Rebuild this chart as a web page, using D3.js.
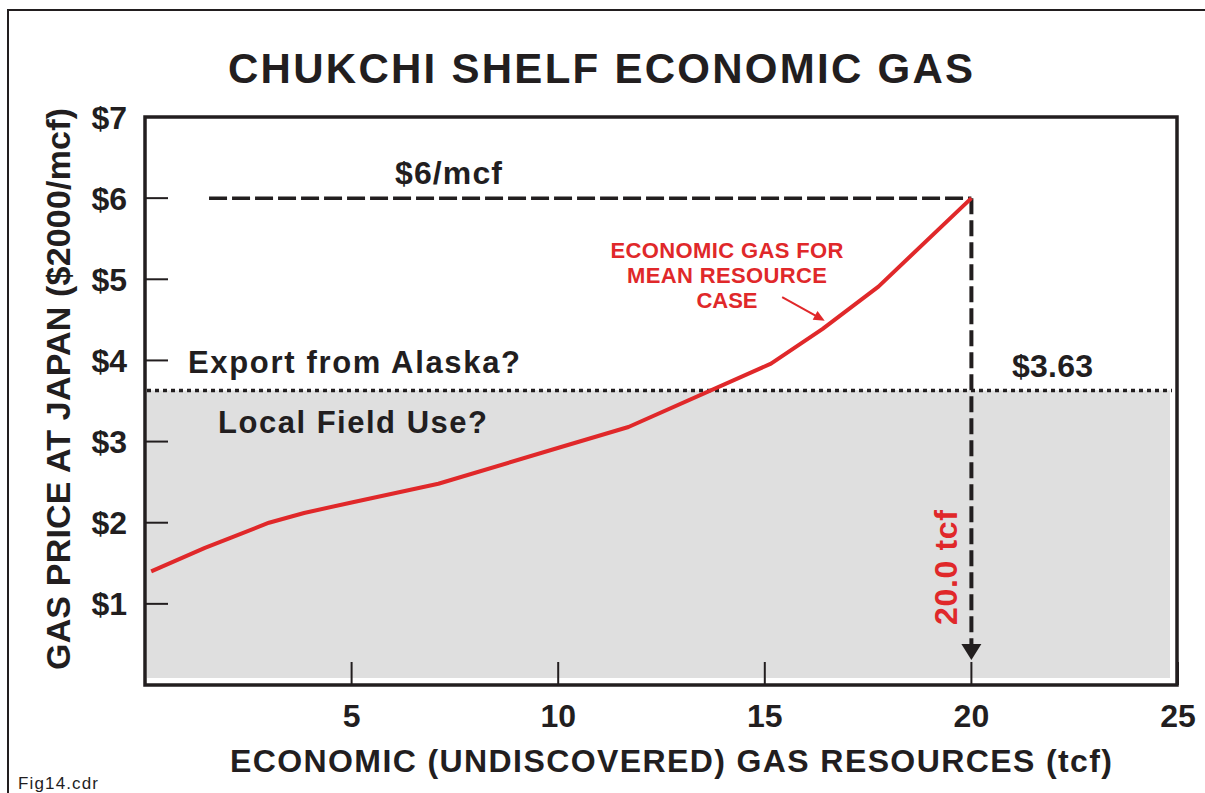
<!DOCTYPE html>
<html>
<head>
<meta charset="utf-8">
<script src="https://cdn.jsdelivr.net/npm/d3@7"></script>
<style>
  body { margin: 0; background: #fff; }
  svg text { font-family: "Liberation Sans Narrow", "Liberation Sans", Arial, sans-serif; font-weight: bold; fill: #221e1f; }
</style>
</head>
<body>
<div id="chart"></div>
<script>
// economic gas curve
var resourceTcf = [0.15, 1.45, 2.1, 3.0, 3.85, 5.0, 7.1, 10.05, 11.7, 15.15, 16.4, 17.75, 20.0];
var priceUsd    = [1.40, 1.69, 1.82, 2.0, 2.12, 2.25, 2.48, 2.93, 3.18, 3.96, 4.39, 4.91, 6.0];

var xTicks = [5, 10, 15, 20, 25];
var yTicks = [1, 2, 3, 4, 5, 6, 7];

var exportPrice = 3.63;   // dotted threshold
var targetPrice = 6;      // $6/mcf
var targetTcf = 20.0;
var dashStartTcf = 1.55;

var width = 1205, height = 793;
var red = "#e0282a", ink = "#221e1f";

var svg = d3.select("#chart").append("svg")
    .attr("width", width)
    .attr("height", height);

// scales
var x = d3.scaleLinear().domain([0, 25]).range([145, 1178]);
var y = d3.scaleLinear().domain([0, 7]).range([685, 117]);

// outer page frame
svg.append("path")
    .attr("d", "M8,793 V10 H1205")
    .attr("fill", "none")
    .attr("stroke", ink)
    .attr("stroke-width", 2);

// title
svg.append("text")
    .attr("x", 228).attr("y", 83)
    .attr("textLength", 745)
    .style("font-size", "42px")
    .text("CHUKCHI SHELF ECONOMIC GAS");

// grey band below export price
svg.append("rect")
    .attr("x", x(0) + 2)
    .attr("y", y(exportPrice))
    .attr("width", x(25) - 8 - x(0) - 2)
    .attr("height", y(0) - 7 - y(exportPrice))
    .attr("fill", "#dfdfdf");

// dotted line at $3.63
svg.append("line")
    .attr("x1", x(0) + 2).attr("x2", x(25) - 6)
    .attr("y1", y(exportPrice)).attr("y2", y(exportPrice))
    .attr("stroke", ink)
    .attr("stroke-width", 3.5)
    .attr("stroke-dasharray", "4,4");

// y ticks (inward)
svg.append("g").selectAll("line")
    .data(yTicks)
    .enter().append("line")
    .attr("x1", x(0)).attr("x2", x(0) + 23)
    .attr("y1", function(d) { return y(d); })
    .attr("y2", function(d) { return y(d); })
    .attr("stroke", ink)
    .attr("stroke-width", 2);

// x ticks (inward)
svg.append("g").selectAll("line")
    .data(xTicks)
    .enter().append("line")
    .attr("x1", function(d) { return x(d); })
    .attr("x2", function(d) { return x(d); })
    .attr("y1", y(0)).attr("y2", y(0) - 23)
    .attr("stroke", ink)
    .attr("stroke-width", 2);

// tick labels
svg.append("g").selectAll("text")
    .data(yTicks)
    .enter().append("text")
    .attr("x", 127)
    .attr("y", function(d) { return y(d); })
    .attr("dy", "0.36em")
    .attr("text-anchor", "end")
    .style("font-size", "32px")
    .text(function(d) { return "$" + d; });

svg.append("g").selectAll("text")
    .data(xTicks)
    .enter().append("text")
    .attr("x", function(d) { return x(d); })
    .attr("y", 727)
    .attr("text-anchor", "middle")
    .style("font-size", "32px")
    .text(function(d) { return d; });

// axis titles
svg.append("text")
    .attr("x", 230).attr("y", 772)
    .attr("textLength", 882)
    .style("font-size", "32px")
    .text("ECONOMIC (UNDISCOVERED) GAS RESOURCES (tcf)");

svg.append("text")
    .attr("transform", "rotate(-90)")
    .attr("x", -670).attr("y", 70)
    .attr("textLength", 562)
    .style("font-size", "34px")
    .text("GAS PRICE AT JAPAN ($2000/mcf)");

svg.append("text")
    .attr("x", 18).attr("y", 789)
    .attr("textLength", 80)
    .style("font-size", "17px")
    .style("font-weight", "normal")
    .text("Fig14.cdr");

// $6 dashed guide
svg.append("line")
    .attr("x1", x(dashStartTcf)).attr("x2", x(targetTcf))
    .attr("y1", y(targetPrice)).attr("y2", y(targetPrice))
    .attr("stroke", ink)
    .attr("stroke-width", 3.5)
    .attr("stroke-dasharray", "18,5");

// vertical dashed drop with arrow
var arrowTip = y(0) - 25;
svg.append("line")
    .attr("x1", x(targetTcf)).attr("x2", x(targetTcf))
    .attr("y1", y(targetPrice)).attr("y2", arrowTip - 12)
    .attr("stroke", ink)
    .attr("stroke-width", 4)
    .attr("stroke-dasharray", "16,6");

svg.append("path")
    .attr("d", "M" + (x(targetTcf) - 10) + "," + (arrowTip - 16) +
               " L" + (x(targetTcf) + 10) + "," + (arrowTip - 16) +
               " L" + x(targetTcf) + "," + arrowTip + " Z")
    .attr("fill", ink);

// the curve
var line = d3.line()
    .x(function(d, i) { return x(resourceTcf[i]); })
    .y(function(d) { return y(d); });

svg.append("path")
    .datum(priceUsd)
    .attr("d", line)
    .attr("fill", "none")
    .attr("stroke", red)
    .attr("stroke-width", 4)
    .attr("stroke-linejoin", "round");

// plot frame
svg.append("rect")
    .attr("x", x(0)).attr("y", y(7))
    .attr("width", x(25) - x(0) - 1)
    .attr("height", y(0) - y(7))
    .attr("fill", "none")
    .attr("stroke", ink)
    .attr("stroke-width", 3.5);

// annotations
svg.append("text")
    .attr("x", 395).attr("y", 184)
    .attr("textLength", 107)
    .style("font-size", "32px")
    .text("$6/mcf");

svg.append("text")
    .attr("x", 188).attr("y", 373)
    .attr("textLength", 332)
    .style("font-size", "31px")
    .text("Export from Alaska?");

svg.append("text")
    .attr("x", 218).attr("y", 433)
    .attr("textLength", 269)
    .style("font-size", "31px")
    .text("Local Field Use?");

svg.append("text")
    .attr("x", 1012).attr("y", 377)
    .attr("textLength", 81)
    .style("font-size", "32px")
    .text("$" + exportPrice.toFixed(2));

var noteLines = ["ECONOMIC GAS FOR", "MEAN RESOURCE", "CASE"];
var noteWidths = [233, 200, 61];
svg.append("g").selectAll("text")
    .data(noteLines)
    .enter().append("text")
    .attr("x", 727)
    .attr("y", function(d, i) { return 258 + i * 25; })
    .attr("text-anchor", "middle")
    .attr("textLength", function(d, i) { return noteWidths[i]; })
    .style("font-size", "22px")
    .style("fill", red)
    .text(function(d) { return d; });

// small red pointer to the curve
var p0 = [x(15.42), y(4.78)], p1 = [x(16.45), y(4.49)];
var ang = Math.atan2(p1[1] - p0[1], p1[0] - p0[0]);
svg.append("line")
    .attr("x1", p0[0]).attr("y1", p0[1])
    .attr("x2", p1[0] - 8 * Math.cos(ang)).attr("y2", p1[1] - 8 * Math.sin(ang))
    .attr("stroke", red)
    .attr("stroke-width", 2);
svg.append("path")
    .attr("d", d3.line()([
        p1,
        [p1[0] - 11 * Math.cos(ang) + 5 * Math.sin(ang), p1[1] - 11 * Math.sin(ang) - 5 * Math.cos(ang)],
        [p1[0] - 11 * Math.cos(ang) - 5 * Math.sin(ang), p1[1] - 11 * Math.sin(ang) + 5 * Math.cos(ang)]
    ]) + "Z")
    .attr("fill", red);

// 20.0 tcf vertical label
svg.append("text")
    .attr("transform", "rotate(-90)")
    .attr("x", -625).attr("y", 957)
    .attr("textLength", 115)
    .style("font-size", "32px")
    .style("fill", red)
    .text(targetTcf.toFixed(1) + " tcf");
</script>
</body>
</html>
